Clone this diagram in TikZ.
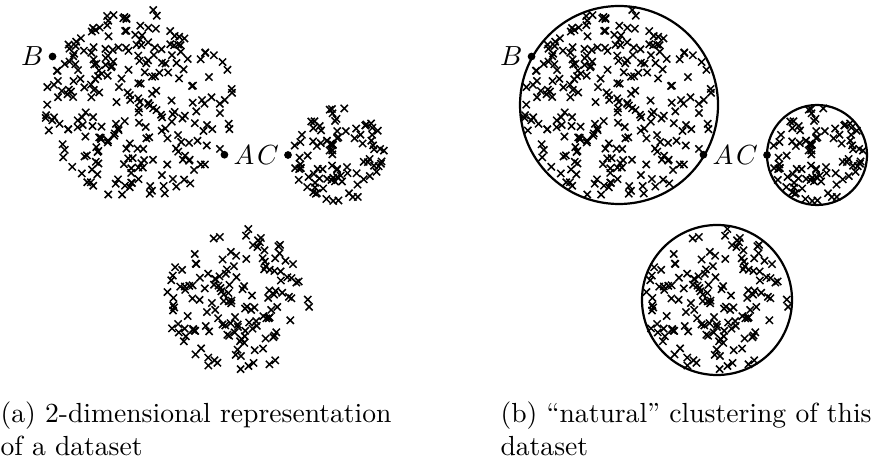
\documentclass[tikz,border=0pt]{standalone}
\usepackage{tikz}
\usetikzlibrary{positioning}

\begin{document}
\begin{tikzpicture}[x=0.01273cm,y=0.01273cm,
  xcross/.pic={\draw[line width=0.55pt] (-3.6,-3.6) -- (3.6,3.6) (-3.6,3.6) -- (3.6,-3.6);},
  datapt/.style={circle,fill,inner sep=0pt,minimum size=2.8pt},
  hull/.style={line width=0.8pt},
  every label/.style={inner sep=1.5pt}]
  \useasboundingbox (0,0) rectangle (876,458);
  % the same dataset in both panels
  \foreach \dx/\tag in {0/a,479/b}{
    \coordinate (big-\tag) at (140+\dx,353);
    \coordinate (small-\tag) at (338+\dx,303);
    \coordinate (low-\tag) at (238+\dx,158);
    \pgfmathsetseed{1307}
    \foreach \cc/\rad/\num in {big/96/260,small/47/95,low/72/150}{
      \foreach \k in {1,...,\num}{
        \pgfmathsetmacro\rr{\rad*sqrt(rnd)}
        \pgfmathsetmacro\aa{360*rnd}
        \path (\cc-\tag) ++(\aa:\rr) pic{xcross};
      }
    }
  }
  % natural clusters
  \draw[hull] (big-b) circle[radius=99] (small-b) circle[radius=50] (low-b) circle[radius=75];
  \foreach \tag in {a,b}{
    \path (big-\tag) ++(151:100) node[datapt,label=left:$B$] (B-\tag) {};
    \path (big-\tag) ++(-30.5:98) node[datapt,label=right:$A$] (A-\tag) {};
    \path (small-\tag) ++(180:50) node[datapt,label=left:$C$] (C-\tag) {};
  }
  \node[anchor=north west,inner sep=0pt,align=left] (cap-a) at (0,57) {(a) 2-dimensional representation\\of a dataset};
  \node[anchor=north west,inner sep=0pt,align=left] (cap-b) at (500,57) {(b) ``natural'' clustering of this\\dataset};
\end{tikzpicture}
\end{document}
